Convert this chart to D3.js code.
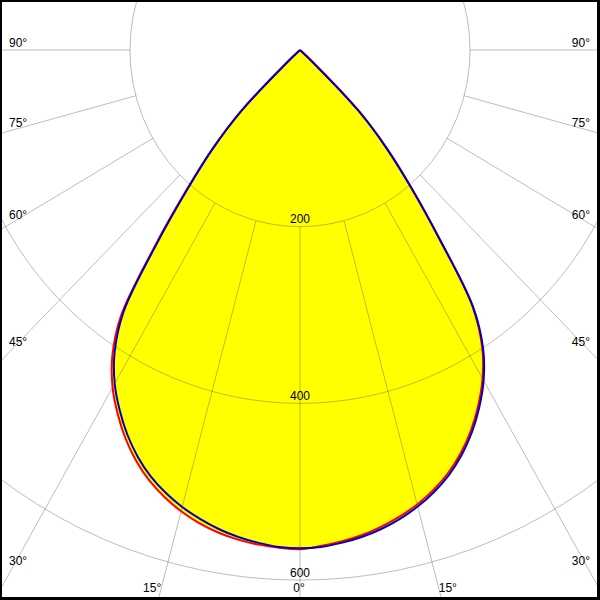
<!DOCTYPE html>
<html><head><meta charset="utf-8">
<script src="https://cdn.jsdelivr.net/npm/d3@7"></script>
<style>html,body{margin:0;padding:0;background:#fff;} svg{display:block;}</style>
</head><body>
<svg id="chart" width="600" height="600"></svg>
<script>
// ---- data ----
const gammaAngles = [0,2.5,5,7.5,10,12.5,15,17.5,20,22.5,25,27.5,30,32.5,35,37.5,40,42.5,45,47.5,50,52.5,55,57.5,60,62.5,65,67.5,70,72.5,75,77.5,80,82.5,85,87.5,90];
// C0-C180 plane (red): C180 drawn on the left, C0 on the right
const c180 = [565,564,562,559,554.5,548.5,540.5,530.5,518.5,503.5,485.5,464.5,441,411,367,282,210,155,99,20,0,0,0,0,0,0,0,0,0,0,0,0,0,0,0,0,0];
const c0   = [564,562,558.5,554,548,541,532.5,522,509.5,494,475.5,454,429.5,399,353.5,269,203.5,151,98,20,0,0,0,0,0,0,0,0,0,0,0,0,0,0,0,0,0];
// C90-C270 plane (blue): C270 on the left, C90 on the right
const c270 = [564,563,560,556,550.5,543.5,535.5,525.5,513.5,498.5,480.5,459.5,436,406,362,278,207,153,98,20,0,0,0,0,0,0,0,0,0,0,0,0,0,0,0,0,0];
const c90  = [564,563,560,556,550.5,543.5,535,524.5,512,496.5,478,456.5,432,401,355,270,204,151,98,20,0,0,0,0,0,0,0,0,0,0,0,0,0,0,0,0,0];
const ringValues = [200, 400, 600];
const ringLabels = ["200", "400", "600"];
const gridAngles = [0, 15, 30, 45, 60, 75, 90];
const angleLabels = ["0°", "15°", "30°", "45°", "60°", "75°", "90°"];

// ---- layout ----
const W = 600, H = 600, cx = 300, cy = 50;
const rX = d3.scaleLinear().domain([0, 200]).range([0, 170]);
const rY = d3.scaleLinear().domain([0, 200]).range([0, 176.7]);
const rad = d => d * Math.PI / 180;
const px = (side, a, v) => cx + side * rX(v) * Math.sin(rad(a));
const py = (a, v) => cy + rY(v) * Math.cos(rad(a));

const svg = d3.select("#chart");
svg.append("rect").attr("width", W).attr("height", H).attr("fill", "#fff");
const clip = svg.append("defs").append("clipPath").attr("id", "frame");
clip.append("rect").attr("x", 2).attr("y", 2).attr("width", 595).attr("height", 595);
const g = svg.append("g").attr("clip-path", "url(#frame)");

// curve points: start at the tip (centre), run down the left half, up the right half, back to the tip
function outline(leftVals, rightVals) {
  const pts = [[cx, cy]];
  for (let i = gammaAngles.length - 1; i >= 0; i--) {
    if (leftVals[i] > 0) pts.push([px(-1, gammaAngles[i], leftVals[i]), py(gammaAngles[i], leftVals[i])]);
  }
  for (let i = 1; i < gammaAngles.length; i++) {
    if (rightVals[i] > 0) pts.push([px(1, gammaAngles[i], rightVals[i]), py(gammaAngles[i], rightVals[i])]);
  }
  pts.push([cx, cy]);
  return pts;
}
const line = d3.line().x(d => d[0]).y(d => d[1]).curve(d3.curveCatmullRom.alpha(0.5));

const redPts = outline(c180, c0);
const bluePts = outline(c270, c90);

// fill
g.append("path").attr("d", line(redPts) + "Z").attr("fill", "#ffff00").attr("stroke", "none");

// grid
const gridColor = "rgba(90,90,90,0.4)";
ringValues.forEach(v => {
  g.append("ellipse").attr("cx", cx).attr("cy", cy).attr("rx", rX(v)).attr("ry", rY(v))
    .attr("fill", "none").attr("stroke", gridColor).attr("stroke-width", 1);
});
const sides = [];
gridAngles.forEach(a => { sides.push([-1, a]); if (a !== 0) sides.push([1, a]); });
sides.forEach(([s, a]) => {
  g.append("line")
    .attr("x1", px(s, a, ringValues[0])).attr("y1", py(a, ringValues[0]))
    .attr("x2", px(s, a, 1400)).attr("y2", py(a, 1400))
    .attr("stroke", gridColor).attr("stroke-width", 1);
});

// curves
g.append("path").attr("d", line(redPts)).attr("fill", "none").attr("stroke", "#ff0000").attr("stroke-width", 2).attr("stroke-linejoin", "round");
g.append("path").attr("d", line(bluePts)).attr("fill", "none").attr("stroke", "#0000c0").attr("stroke-width", 2).attr("stroke-linejoin", "round");

// ring labels
const font = "Liberation Sans, Arial, sans-serif";
ringValues.forEach((v, i) => {
  g.append("text").attr("x", cx).attr("y", py(0, v) - 3.5).attr("text-anchor", "middle")
    .attr("font-family", font).attr("font-size", 12).attr("fill", "#000").text(ringLabels[i]);
});

// angle labels
gridAngles.forEach((a, i) => {
  const t = angleLabels[i];
  if (a >= 30) {
    const vEdge = rX.invert((cx - 12) / Math.sin(rad(a)));
    const yb = py(a, vEdge) - 3.5;
    g.append("text").attr("x", 9).attr("y", yb).attr("text-anchor", "start")
      .attr("font-family", font).attr("font-size", 12).text(t);
    g.append("text").attr("x", 590).attr("y", yb).attr("text-anchor", "end")
      .attr("font-family", font).attr("font-size", 12).text(t);
  } else if (a === 0) {
    g.append("text").attr("x", cx - 1).attr("y", 592).attr("text-anchor", "middle")
      .attr("font-family", font).attr("font-size", 12).text(t);
  } else {
    const vEdge = rY.invert((592 - cy) / Math.cos(rad(a)));
    g.append("text").attr("x", px(-1, a, vEdge) + 1).attr("y", 592).attr("text-anchor", "end")
      .attr("font-family", font).attr("font-size", 12).text(t);
    g.append("text").attr("x", px(1, a, vEdge) - 1).attr("y", 592).attr("text-anchor", "start")
      .attr("font-family", font).attr("font-size", 12).text(t);
  }
});

// frame
svg.append("path")
  .attr("d", `M0,0H${W}V${H}H0Z M2,2V597H597V2Z`)
  .attr("fill", "#000").attr("fill-rule", "evenodd");
</script>
</body></html>
